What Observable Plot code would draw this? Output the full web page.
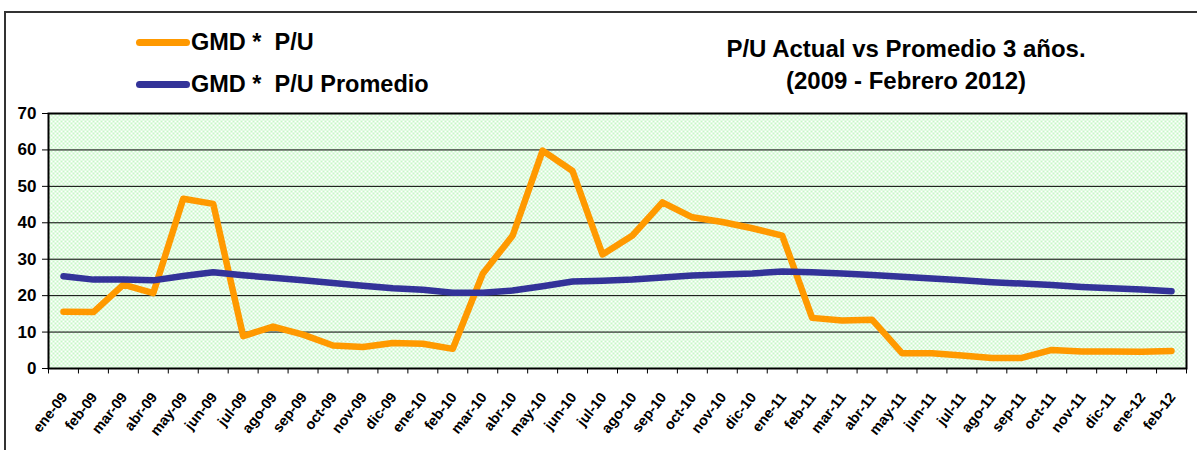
<!DOCTYPE html>
<html>
<head>
<meta charset="utf-8">
<script src="https://cdn.jsdelivr.net/npm/d3@7"></script>
<script src="https://cdn.jsdelivr.net/npm/@observablehq/plot@0.6"></script>
<style>
  html, body { margin: 0; padding: 0; background: #fff; }
  body { width: 1197px; height: 450px; overflow: hidden; position: relative;
         font-family: "Liberation Sans", Arial, sans-serif; font-weight: bold; }
  #outer { position: absolute; left: 4px; top: 11px; width: 1200px; height: 460px;
           border-left: 2px solid #333; border-top: 2px solid #333; box-sizing: border-box; }
  #legend { position: absolute; left: 0; top: 0; }
  .leg { position: absolute; white-space: pre; font-size: 23.5px; color: #000; }
  .sw { position: absolute; width: 54px; height: 7px; border-radius: 4px; }
  #title { position: absolute; left: 656px; width: 500px; top: 33px; text-align: center;
           font-size: 24px; line-height: 32px; color: #000; white-space: pre; }
  #chart { position: absolute; left: 0; top: 100px; }
</style>
</head>
<body>
<div id="outer"></div>
<div id="legend"></div>
<div id="title"></div>
<div id="chart"></div>
<script>
const months = ["ene-09","feb-09","mar-09","abr-09","may-09","jun-09","jul-09","ago-09","sep-09","oct-09","nov-09","dic-09",
  "ene-10","feb-10","mar-10","abr-10","may-10","jun-10","jul-10","ago-10","sep-10","oct-10","nov-10","dic-10",
  "ene-11","feb-11","mar-11","abr-11","may-11","jun-11","jul-11","ago-11","sep-11","oct-11","nov-11","dic-11",
  "ene-12","feb-12"];
const pu = [15.6,15.5,23.0,20.7,46.6,45.2,8.9,11.5,9.3,6.3,5.9,7.0,
  6.8,5.4,26.0,36.5,59.8,54.2,31.3,36.5,45.6,41.5,40.2,38.5,
  36.5,13.9,13.2,13.4,4.2,4.2,3.6,2.9,2.9,5.1,4.7,4.7,
  4.6,4.8];
const puProm = [25.3,24.4,24.4,24.2,25.4,26.4,25.6,24.9,24.2,23.5,22.7,22.0,
  21.6,20.8,20.8,21.4,22.6,23.9,24.1,24.4,25.0,25.5,25.8,26.1,
  26.6,26.4,26.1,25.7,25.2,24.7,24.2,23.7,23.3,22.9,22.4,22.0,
  21.7,21.2];
const yTicks = [0,10,20,30,40,50,60,70];
const seriesNames = ["GMD *  P/U", "GMD *  P/U Promedio"];
const seriesColors = ["#FF9900", "#333399"];
const titleLines = ["P/U Actual vs Promedio 3 años.", "(2009 - Febrero 2012)"];

const data = months.map((m, i) => ({i, m, pu: pu[i], prom: puProm[i]}));
const bounds = d3.range(months.length + 1).map(i => i - 0.5);

// legend
const legend = document.getElementById("legend");
seriesNames.forEach((name, k) => {
  const top = 29 + k * 42;
  const sw = document.createElement("div");
  sw.className = "sw"; sw.style.background = seriesColors[k];
  sw.style.left = "136px"; sw.style.top = (top + 10) + "px";
  legend.appendChild(sw);
  const t = document.createElement("div");
  t.className = "leg"; t.textContent = name;
  t.style.left = "191px"; t.style.top = top + "px";
  legend.appendChild(t);
});
document.getElementById("title").innerHTML = titleLines.map(s => `<div>${s}</div>`).join("");

const chart = Plot.plot({
  width: 1197,
  height: 350,
  marginLeft: 48,
  marginRight: 11,
  marginTop: 13,
  marginBottom: 82,
  style: {fontFamily: "'Liberation Sans', Arial, sans-serif", fontWeight: "bold", fontSize: "17px", background: "transparent", overflow: "visible", color: "#000"},
  x: {type: "linear", domain: [-0.5, months.length - 0.5], axis: null},
  y: {domain: [0, 70], ticks: yTicks, tickSize: 6, tickPadding: 6, label: null, tickFormat: d => d},
  marks: [
    Plot.frame({fill: "url(#dots)"}),
    Plot.ruleY(yTicks.filter(v => v > 0 && v < 70), {stroke: "#000", strokeWidth: 1}),
    Plot.ruleX(bounds, {x: d => d, y1: 0, y2: -1.5, stroke: "#000", strokeWidth: 1}),
    Plot.text(data, {x: "i", y: 0, text: "m", rotate: -52, textAnchor: "end", dy: 26, dx: 1, fontSize: 14.5, fontWeight: "bold", fill: "#000"}),
    Plot.line(data, {x: "i", y: "pu", stroke: seriesColors[0], strokeWidth: 6.5, strokeLinejoin: "round", strokeLinecap: "round"}),
    Plot.line(data, {x: "i", y: "prom", stroke: seriesColors[1], strokeWidth: 6.5, strokeLinejoin: "round", strokeLinecap: "round"}),
    Plot.frame({stroke: "#000", strokeWidth: 2})
  ]
});

const defs = d3.select(chart).insert("defs", ":first-child");
const pat = defs.append("pattern").attr("id", "dots").attr("patternUnits", "userSpaceOnUse")
  .attr("width", 4).attr("height", 4);
pat.append("rect").attr("width", 4).attr("height", 4).attr("fill", "#ffffff");
pat.append("rect").attr("x", 0).attr("y", 0).attr("width", 2).attr("height", 2).attr("fill", "#c6f7c6");
pat.append("rect").attr("x", 2).attr("y", 2).attr("width", 2).attr("height", 2).attr("fill", "#c6f7c6");

document.getElementById("chart").appendChild(chart);
</script>
</body>
</html>
